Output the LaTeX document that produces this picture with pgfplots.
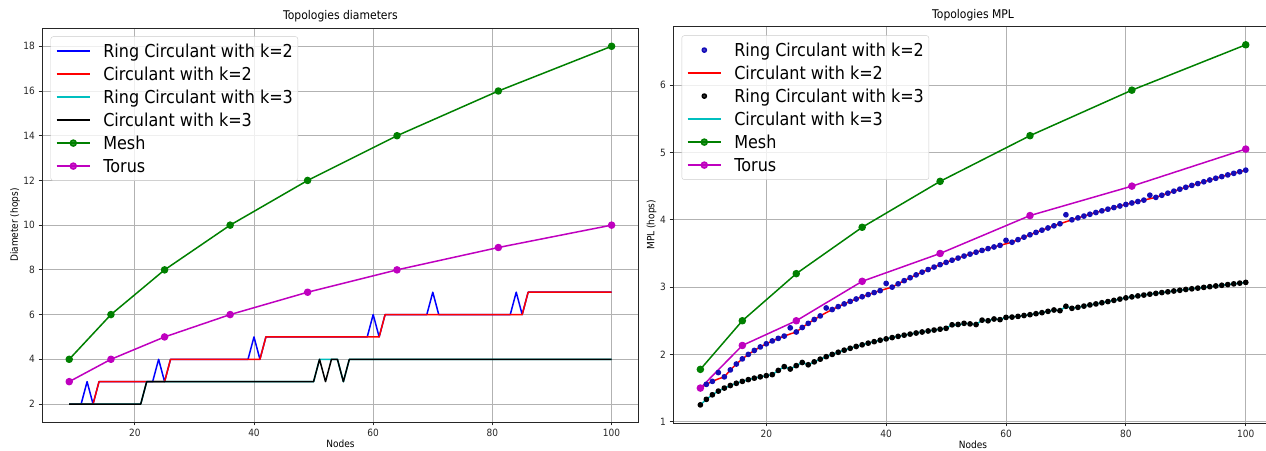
\documentclass[border=0pt]{standalone}
\usepackage{fontspec}
\setmainfont[FakeStretch=0.9]{DejaVu Sans}
\usepackage{pgfplots}
\usepackage{pgfplotstable}
\pgfplotsset{compat=1.18}
\definecolor{mplc}{rgb}{0,0.75,0.75}
\definecolor{mplg}{rgb}{0,0.5,0}
\definecolor{mplm}{rgb}{0.75,0,0.75}
\definecolor{mpldot}{rgb}{0.08,0.05,0.72}

\pgfplotstableread{
n rk2 ck2 rk3 ck3
9 1.5000 1.5000 1.250 1.250
10 1.5556 1.5556 1.333 1.333
11 1.6000 1.6000 1.400 1.400
12 1.7300 1.6364 1.455 1.455
13 1.6667 1.6667 1.500 1.500
14 1.7692 1.7692 1.538 1.538
15 1.8571 1.8571 1.571 1.571
16 1.9333 1.9333 1.600 1.600
17 2.0000 2.0000 1.625 1.625
18 2.0588 2.0588 1.647 1.647
19 2.1111 2.1111 1.667 1.667
20 2.1579 2.1579 1.684 1.684
21 2.2000 2.2000 1.700 1.700
22 2.2381 2.2381 1.762 1.762
23 2.2727 2.2727 1.818 1.818
24 2.3950 2.3043 1.783 1.783
25 2.3333 2.3333 1.833 1.833
26 2.4000 2.4000 1.880 1.880
27 2.4615 2.4615 1.846 1.846
28 2.5185 2.5185 1.889 1.889
29 2.5714 2.5714 1.929 1.929
30 2.6900 2.6207 1.966 1.966
31 2.6667 2.6667 2.000 2.000
32 2.7097 2.7097 2.032 2.032
33 2.7500 2.7500 2.063 2.063
34 2.7879 2.7879 2.091 2.091
35 2.8235 2.8235 2.118 2.118
36 2.8571 2.8571 2.143 2.143
37 2.8889 2.8889 2.167 2.167
38 2.9189 2.9189 2.189 2.189
39 2.9474 2.9474 2.211 2.211
40 3.0550 2.9744 2.231 2.231
41 3.0000 3.0000 2.250 2.250
42 3.0488 3.0488 2.268 2.268
43 3.0952 3.0952 2.286 2.286
44 3.1395 3.1395 2.302 2.302
45 3.1818 3.1818 2.318 2.318
46 3.2222 3.2222 2.333 2.333
47 3.2609 3.2609 2.348 2.348
48 3.2979 3.2979 2.362 2.362
49 3.3333 3.3333 2.375 2.375
50 3.3673 3.3673 2.388 2.388
51 3.4000 3.4000 2.440 2.440
52 3.4314 3.4314 2.445 2.431
53 3.4615 3.4615 2.462 2.462
54 3.4906 3.4906 2.453 2.453
55 3.5185 3.5185 2.444 2.444
56 3.5455 3.5455 2.509 2.509
57 3.5714 3.5714 2.500 2.500
58 3.5965 3.5965 2.526 2.526
59 3.6207 3.6207 2.517 2.517
60 3.6950 3.6441 2.550 2.550
61 3.6667 3.6667 2.555 2.555
62 3.7049 3.7049 2.565 2.565
63 3.7419 3.7419 2.578 2.578
64 3.7778 3.7778 2.590 2.590
65 3.8125 3.8125 2.605 2.605
66 3.8462 3.8462 2.620 2.620
67 3.8788 3.8788 2.640 2.640
68 3.9104 3.9104 2.660 2.660
69 3.9412 3.9412 2.650 2.650
70 4.0750 3.9710 2.715 2.715
71 4.0000 4.0000 2.685 2.685
72 4.0282 4.0282 2.700 2.700
73 4.0556 4.0556 2.718 2.718
74 4.0822 4.0822 2.735 2.735
75 4.1081 4.1081 2.750 2.750
76 4.1333 4.1333 2.768 2.768
77 4.1579 4.1579 2.785 2.785
78 4.1818 4.1818 2.803 2.803
79 4.2051 4.2051 2.822 2.822
80 4.2278 4.2278 2.840 2.840
81 4.2500 4.2500 2.855 2.855
82 4.2716 4.2716 2.869 2.869
83 4.2927 4.2927 2.882 2.882
84 4.3650 4.3133 2.895 2.895
85 4.3333 4.3333 2.907 2.907
86 4.3647 4.3647 2.919 2.919
87 4.3953 4.3953 2.930 2.930
88 4.4253 4.4253 2.942 2.942
89 4.4545 4.4545 2.953 2.953
90 4.4831 4.4831 2.965 2.965
91 4.5111 4.5111 2.975 2.975
92 4.5385 4.5385 2.985 2.985
93 4.5652 4.5652 2.996 2.996
94 4.5914 4.5914 3.006 3.006
95 4.6170 4.6170 3.017 3.017
96 4.6421 4.6421 3.027 3.027
97 4.6667 4.6667 3.038 3.038
98 4.6907 4.6907 3.048 3.048
99 4.7143 4.7143 3.059 3.059
100 4.7374 4.7374 3.070 3.070
}\mpltab

\pgfplotstableread{
n mesh torus
9 1.778 1.500
16 2.500 2.133
25 3.200 2.500
36 3.889 3.086
49 4.571 3.500
64 5.250 4.063
81 5.926 4.500
100 6.600 5.051
}\mplgrid

\pgfplotstableread{
n mesh torus
9 4 3
16 6 4
25 8 5
36 10 6
49 12 7
64 14 8
81 16 9
100 18 10
}\diamgrid

\pgfplotsset{
  myaxis/.style={
    scale only axis,
    anchor=south west,
    xmin=4.45, xmax=104.55,
    xtick={20,40,60,80,100},
    grid=major,
    major grid style={black!30, line width=0.8pt},
    axis line style={black!85, line width=0.8pt},
    tick align=outside,
    tick pos=left,
    major tick length=3.5pt,
    every tick/.style={black!85, line width=0.8pt},
    /pgf/number format/assume math mode=true,
    tick label style={font=\fontsize{10}{12}\selectfont, text=black!85},
    xticklabel style={anchor=north, inner sep=0pt, yshift=-3pt},
    yticklabel style={anchor=east, inner sep=0pt, xshift=-3.5pt},
    label style={font=\fontsize{10}{12}\selectfont},
    every axis x label/.style={at={(axis description cs:0.5,0)}, anchor=base, yshift=-25.5pt, inner sep=0pt},
    title style={font=\fontsize{12}{14}\selectfont, at={(0.5,1)}, anchor=base, yshift=2.5pt, inner sep=0pt},
    legend style={at={(0,1)}, anchor=north west, xshift=8.5pt, yshift=-8pt,
      font=\fontsize{17.8}{17.8}\selectfont, draw=black!20, rounded corners=2.5pt,
      fill=white, fill opacity=0.8, text opacity=1,
      inner xsep=5pt, inner ysep=6pt, row sep=6pt, column sep=12.5pt,
      nodes={anchor=west, inner sep=0pt, text height=15pt, text depth=2pt}},
    legend image code/.code={\draw[line width=1.5pt, mark repeat=2, mark phase=2, #1] plot coordinates {(0pt,0pt) (16.75pt,0pt) (33.5pt,0pt)};},
    every axis plot/.append style={line width=1.5pt, line join=round},
  }
}

\begin{document}
\begin{tikzpicture}
\useasboundingbox (0,0) rectangle (1266pt,450pt);
\clip (0,0) rectangle (1266pt,450pt);

% ---------- left: diameters ----------
\begin{axis}[myaxis,
  at={(42.1pt,28.1pt)}, width=596.6pt, height=393.5pt,
  ymin=1.2, ymax=18.8, ytick={2,4,...,18},
  title={Topologies diameters},
  xlabel={Nodes},
  ylabel={Diameter (hops)},
  every axis y label/.style={at={(axis description cs:0,0.5)}, rotate=90, anchor=center, yshift=27pt},
]
\addplot[blue, no marks] coordinates {(9,2)(11,2)(12,3)(13,2)(14,3)(23,3)(24,4)(25,3)(26,4)(39,4)(40,5)(41,4)(42,5)(59,5)(60,6)(61,5)(62,6)(69,6)(70,7)(71,6)(83,6)(84,7)(85,6)(86,7)(100,7)};
\addlegendentry{Ring Circulant with k=2}
\addplot[red, no marks] coordinates {(9,2)(13,2)(14,3)(25,3)(26,4)(41,4)(42,5)(61,5)(62,6)(85,6)(86,7)(100,7)};
\addlegendentry{Circulant with k=2}
\addplot[mplc, no marks] coordinates {(9,2)(21,2)(22,3)(50,3)(51,4)(52,4)(53,4)(54,4)(55,3)(56,4)(100,4)};
\addlegendentry{Ring Circulant with k=3}
\addplot[black, no marks] coordinates {(9,2)(21,2)(22,3)(50,3)(51,4)(52,3)(53,4)(54,4)(55,3)(56,4)(100,4)};
\addlegendentry{Circulant with k=3}
\addplot[mplg, mark=*, mark size=3pt, mark options={solid}] table[x=n, y=mesh] {\diamgrid};
\addlegendentry{Mesh}
\addplot[mplm, mark=*, mark size=3pt, mark options={solid}] table[x=n, y=torus] {\diamgrid};
\addlegendentry{Torus}
\end{axis}

% ---------- right: MPL ----------
\begin{axis}[myaxis,
  at={(673.1pt,27.1pt)}, width=599.9pt, height=396.1pt,
  ymin=0.9825, ymax=6.8675, ytick={1,2,3,4,5,6},
  title={Topologies MPL},
  xlabel={Nodes},
  ylabel={MPL (hops)},
  legend style={yshift=-0.6pt},
  every axis y label/.style={at={(axis description cs:0,0.5)}, rotate=90, anchor=center, yshift=21.4pt},
]
\addplot[mpldot, only marks, mark=*, mark size=2.1pt] table[x=n, y=rk2] {\mpltab};
\addlegendentry{Ring Circulant with k=2}
\addplot[red, no marks] table[x=n, y=ck2] {\mpltab};
\addlegendentry{Circulant with k=2}
\addplot[black, only marks, mark=*, mark size=2.1pt] table[x=n, y=rk3] {\mpltab};
\addlegendentry{Ring Circulant with k=3}
\addplot[mplc, no marks] table[x=n, y=ck3] {\mpltab};
\addlegendentry{Circulant with k=3}
\addplot[mplg, mark=*, mark size=3pt] table[x=n, y=mesh] {\mplgrid};
\addlegendentry{Mesh}
\addplot[mplm, mark=*, mark size=3pt] table[x=n, y=torus] {\mplgrid};
\addlegendentry{Torus}
\end{axis}
\end{tikzpicture}
\end{document}
